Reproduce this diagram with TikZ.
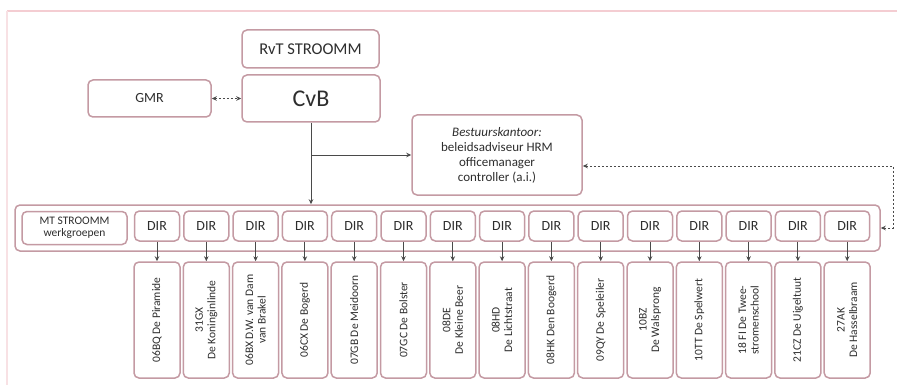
\documentclass[tikz,border=0pt]{standalone}
\usepackage{fontspec}
\setmainfont{Carlito}
\usetikzlibrary{arrows.meta}

\definecolor{boxline}{HTML}{C49AA3}
\definecolor{frameline}{HTML}{F4CDD2}
\definecolor{txt}{HTML}{2E2E2E}
\definecolor{linegray}{HTML}{4A4A4A}

\begin{document}
\begin{tikzpicture}[x = 1pt, y = -1pt,
    box/.style = {draw = boxline, rounded corners = 5pt, line width = 1.5pt,
        fill = white, text = txt, align = center, inner sep = 2pt},
    dirbox/.style = {box, minimum width = 45pt, minimum height = 30pt,
        font = \fontsize{14}{15}\selectfont},
    school/.style = {box, rotate = 90, minimum width = 116pt, minimum height = 46pt,
        font = \fontsize{11.5}{12.5}\selectfont},
    link/.style = {draw = linegray, line width = 0.9pt, -{Stealth[length = 5pt, width = 4.5pt]}},
    dashlink/.style = {draw = linegray, line width = 0.9pt, dash pattern = on 2pt off 2pt,
        {Stealth[length = 5pt, width = 4.5pt]}-{Stealth[length = 5pt, width = 4.5pt]}}]
    \useasboundingbox (0,0) rectangle (897,385);
    % page frame
    \draw[frameline, line width = 2.5pt] (7,11) -- (897,11);
    \draw[frameline!60, line width = 1.5pt] (7,11) -- (7,385);

    % top of the organisation
    \node[box, minimum width = 137pt, minimum height = 38pt, font = \fontsize{16.5}{18}\selectfont]
        (rvt) at (310.5,49) {RvT STROOMM};
    \node[box, minimum width = 138pt, minimum height = 47pt, font = \fontsize{24}{26}\selectfont]
        (cvb) at (311,98.5) {CvB};
    \node[box, minimum width = 123pt, minimum height = 37pt, font = \fontsize{14}{15}\selectfont]
        (gmr) at (149.5,98.5) {GMR};
    \node[box, minimum width = 170pt, minimum height = 80pt, font = \fontsize{13}{15}\selectfont]
        (bestuur) at (497,155)
        {\textit{Bestuurskantoor:}\\ beleidsadviseur HRM\\ officemanager\\ controller (a.i.)};

    % row with MT and directors
    \node[box, minimum width = 865pt, minimum height = 46pt] (mtrow) at (447.5,228) {};
    \node[box, minimum width = 105pt, minimum height = 33pt, font = \fontsize{11.5}{12.5}\selectfont]
        (mt) at (74.5,228) {MT STROOMM\\ werkgroepen};

    \foreach \lbl [count = \i] in {06BQ De Piramide, {31GX\\ De Koninginlinde},
        {06BX D.W. van Dam\\ van Brakel}, 06CX De Bogerd, 07GB De Meidoorn,
        07GC De Bolster, {08DE\\ De Kleine Beer}, {08HD\\ De Lichtstraat},
        08HK Den Boogerd, 09QY De Speleiler, {10BZ\\ De Walsprong},
        10TT De Spelwert, {18 FI De Twee-\\ stromenschool}, 21CZ De Uigeltuut,
        {27AK\\ De Hasselbraam}}
    {
        \node[dirbox] (dir\i) at (157+49.3*\i-49.3,226) {DIR};
        \node[school] (school\i) at (157+49.3*\i-49.3,320) {\lbl};
        \draw[link] (dir\i) -- (school\i);
    }

    % connectors
    \draw[dashlink] (gmr) -- (cvb);
    \draw[link] (cvb) -- (cvb |- mtrow.north);
    \coordinate (split) at (cvb.south |- bestuur.west);
    \draw[link] (split) -- (bestuur.west);
    \coordinate (edge) at (893,0);
    \draw[dashlink] ([yshift = -11pt]bestuur.east) -- ([yshift = -11pt]bestuur.east -| edge)
        -- (mtrow.east -| edge) -- (mtrow.east);
\end{tikzpicture}
\end{document}
